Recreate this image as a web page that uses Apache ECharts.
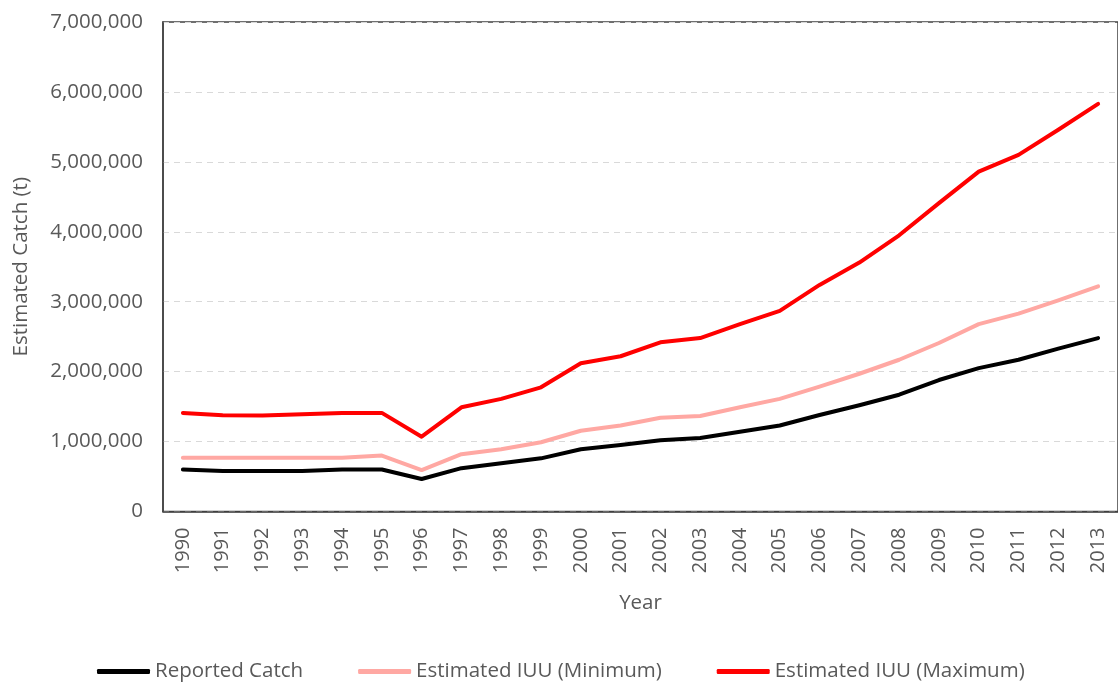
<!DOCTYPE html>
<html>
<head>
<meta charset="utf-8">
<script src="https://cdn.jsdelivr.net/npm/echarts@6/dist/echarts.min.js"></script>
<style>
  html, body { margin: 0; padding: 0; background: #fff; }
  #chart { width: 1118px; height: 684px; }
</style>
</head>
<body>
<div id="chart"></div>
<script>
  // 年份
  const years = ['1990','1991','1992','1993','1994','1995','1996','1997','1998','1999','2000','2001',
    '2002','2003','2004','2005','2006','2007','2008','2009','2010','2011','2012','2013'];
  // reported catch (t)
  const reported = [600000,580000,580000,580000,600000,600000,465000,620000,690000,760000,890000,950000,
    1020000,1050000,1140000,1230000,1380000,1520000,1670000,1880000,2050000,2170000,2330000,2480000];
  // IUU minimum
  const iuuMin = [770000,770000,770000,770000,770000,800000,593000,820000,890000,990000,1155000,1230000,
    1340000,1365000,1490000,1610000,1785000,1970000,2170000,2410000,2680000,2830000,3020000,3220000];
  // IUU maximum
  const iuuMax = [1410000,1375000,1373000,1390000,1410000,1410000,1070000,1490000,1610000,1776000,2120000,2220000,
    2420000,2480000,2680000,2870000,3240000,3560000,3950000,4410000,4860000,5100000,5460000,5830000];

  const fontFam = '"Open Sans", sans-serif';
  const grey = '#595959';

  let myChart = echarts.init(document.getElementById('chart'));
  myChart.setOption({
    animation: false,
    textStyle: { fontFamily: fontFam },
    grid: {
      left: 163, top: 22, width: 960, height: 489.5,
      show: true, borderColor: '#404040', borderWidth: 1.5, backgroundColor: '#fff'
    },
    legend: {
      top: 661, left: 97, padding: 0,
      itemWidth: 53, itemHeight: 5, itemGap: 55,
      icon: 'roundRect',
      textStyle: { fontFamily: fontFam, fontSize: 20.5, color: grey },
      data: ['Reported Catch', 'Estimated IUU (Minimum)', 'Estimated IUU (Maximum)']
    },
    xAxis: {
      type: 'category',
      data: years,
      boundaryGap: true,
      name: 'Year',
      nameLocation: 'middle',
      nameGap: 81,
      nameTextStyle: { fontSize: 20.5, color: grey, fontFamily: fontFam },
      axisLine: { lineStyle: { color: '#404040', width: 1.5 } },
      axisTick: { show: false },
      axisLabel: { rotate: 90, margin: 16, fontSize: 20, color: grey, interval: 0 }
    },
    yAxis: {
      type: 'value',
      min: 0, max: 7000000, interval: 1000000,
      name: 'Estimated Catch (t)',
      nameLocation: 'middle',
      nameGap: 131,
      nameTextStyle: { fontSize: 20.5, color: grey, fontFamily: fontFam },
      axisLine: { show: true, lineStyle: { color: '#404040', width: 1.5 } },
      axisTick: { show: false },
      axisLabel: {
        margin: 20, fontSize: 20.5, color: grey,
        formatter: function (v) { return v.toLocaleString('en-US'); }
      },
      splitLine: { show: true, lineStyle: { color: '#d9d9d9', type: [6, 5], width: 1 } }
    },
    series: [
      {
        name: 'Reported Catch', type: 'line', data: reported,
        symbol: 'none', lineStyle: { color: '#000000', width: 4, cap: 'round', join: 'round' },
        itemStyle: { color: '#000000' }
      },
      {
        name: 'Estimated IUU (Minimum)', type: 'line', data: iuuMin,
        symbol: 'none', lineStyle: { color: '#ffa8a3', width: 4, cap: 'round', join: 'round' },
        itemStyle: { color: '#ffa8a3' }
      },
      {
        name: 'Estimated IUU (Maximum)', type: 'line', data: iuuMax,
        symbol: 'none', lineStyle: { color: '#ff0000', width: 4, cap: 'round', join: 'round' },
        itemStyle: { color: '#ff0000' }
      }
    ]
  });
</script>
</body>
</html>
